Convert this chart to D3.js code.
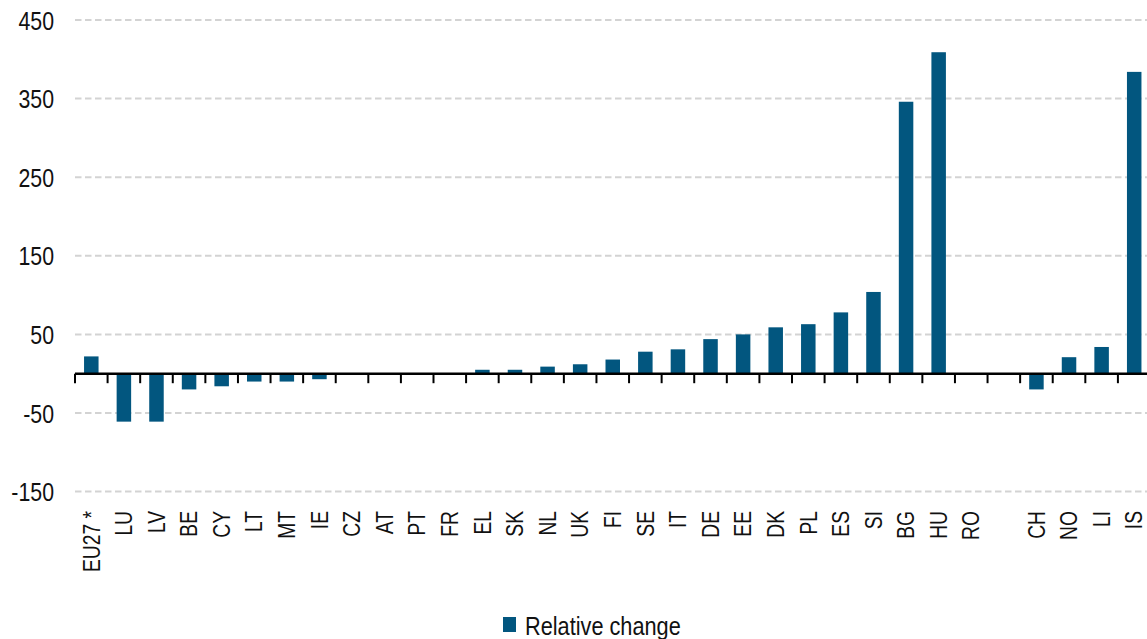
<!DOCTYPE html>
<html>
<head>
<meta charset="utf-8">
<script src="https://cdnjs.cloudflare.com/ajax/libs/d3/7.8.5/d3.min.js"></script>
<style>
  body { margin: 0; background: #fff; }
  svg { display: block; font-family: "Liberation Sans", Arial, sans-serif; }
</style>
</head>
<body>
<div id="chart"></div>
<script>
// country codes, "" is the empty slot between RO and CH
const categories = ["EU27 *", "LU", "LV", "BE", "CY", "LT", "MT", "IE", "CZ", "AT", "PT", "FR",
    "EL", "SK", "NL", "UK", "FI", "SE", "IT", "DE", "EE", "DK", "PL", "ES", "SI", "BG", "HU", "RO",
    "", "CH", "NO", "LI", "IS"];
const relativeChange = [22, -61, -61, -20, -16, -10, -10, -7, 0, 0, 0, 0,
    5, 5, 9, 12, 18, 28, 31, 44, 50, 59, 63, 78, 104, 346, 409, 0,
    null, -20, 21, 34, 384];
const yTicks = [-150, -50, 50, 150, 250, 350, 450];
const legendLabel = "Relative change";

const width = 1147, height = 639;
const barColor = "#02567f";
const narrow = "scale(0.82,1)";   // no condensed font installed, squeeze the regular one

const svg = d3.select("#chart").append("svg")
    .attr("width", width)
    .attr("height", height);

const x = d3.scaleBand()
    .domain(d3.range(categories.length))
    .range([75, 1150.5])
    .padding(0);

const y = d3.scaleLinear()
    .domain([-150, 450])
    .range([491.6, 20]);

// dashed grid
svg.append("g")
    .selectAll("line")
    .data(yTicks)
    .enter().append("line")
    .attr("x1", 75)
    .attr("x2", width)
    .attr("y1", d => y(d))
    .attr("y2", d => y(d))
    .attr("stroke", "#d3d3d3")
    .attr("stroke-width", 2)
    .attr("stroke-dasharray", "6.5,3.5");

// y labels (plain hyphen like the original)
const yAxis = d3.axisLeft(y).tickValues(yTicks).tickSize(0).tickPadding(0)
    .tickFormat(d => String(d));
const yg = svg.append("g")
    .attr("transform", "translate(54,0)")
    .call(yAxis);
yg.select(".domain").remove();
yg.selectAll("text")
    .attr("font-size", 26)
    .attr("font-family", null)
    .attr("fill", "#111")
    .attr("dy", "0.35em")
    .attr("transform", narrow);

// bars
const barW = 14.5;
const barData = relativeChange.map((v, i) => ({ i, v })).filter(d => d.v);
svg.append("g")
    .selectAll("rect")
    .data(barData)
    .enter().append("rect")
    .attr("x", d => x(d.i) + x.bandwidth() / 2 - barW / 2)
    .attr("width", barW)
    .attr("y", d => y(Math.max(0, d.v)))
    .attr("height", d => Math.abs(y(d.v) - y(0)))
    .attr("fill", barColor);

// x axis: line at zero, ticks at slot edges
const xAxis = svg.append("g").attr("transform", `translate(0,${y(0)})`);
xAxis.append("line")
    .attr("x1", 75).attr("x2", width)
    .attr("stroke", "#000")
    .attr("stroke-width", 2.6);
xAxis.selectAll(".tick")
    .data(d3.range(categories.length))
    .enter().append("line")
    .attr("x1", d => x(d)).attr("x2", d => x(d))
    .attr("y1", 0).attr("y2", 9.5)
    .attr("stroke", "#000")
    .attr("stroke-width", 2);

// rotated category labels
svg.append("g")
    .selectAll("text")
    .data(categories)
    .enter().append("text")
    .attr("transform", (d, i) => `translate(${x(i) + x.bandwidth() / 2},511) rotate(-90) ${narrow}`)
    .attr("text-anchor", "end")
    .attr("dy", "0.35em")
    .attr("font-size", 23.5)
    .attr("fill", "#111")
    .text(d => d);

// legend
const legend = svg.append("g").attr("transform", "translate(503,617)");
legend.append("rect")
    .attr("width", 13)
    .attr("height", 15)
    .attr("fill", barColor);
legend.append("text")
    .attr("transform", `translate(22,18) ${narrow}`)
    .attr("font-size", 26.5)
    .attr("fill", "#111")
    .text(legendLabel);
</script>
</body>
</html>
